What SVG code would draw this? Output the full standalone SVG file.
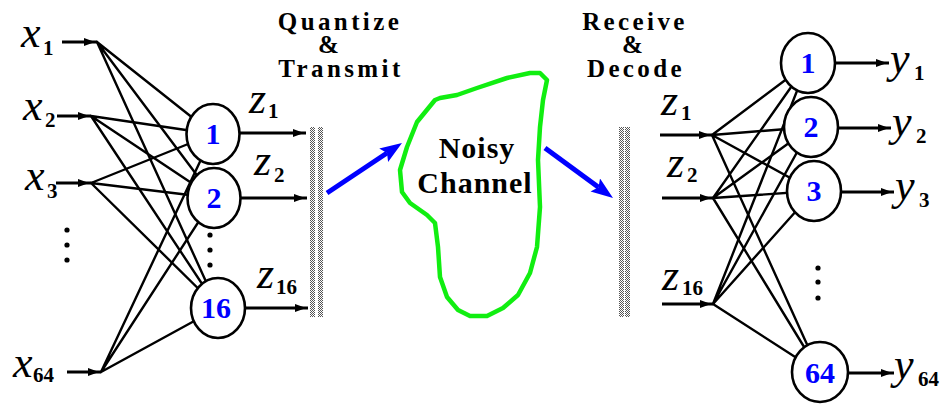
<svg xmlns="http://www.w3.org/2000/svg" width="944" height="404" viewBox="0 0 944 404">
  <defs>
    <style type="text/css">
      text { font-family: 'Liberation Serif', 'Times New Roman', serif; }
      .wire { stroke: #000; stroke-width: 2.4; fill: none; stroke-linecap: round; }
      .io { stroke: #000; stroke-width: 2.8; fill: none; marker-end: url(#head); }
      .send { stroke: #0000ff; stroke-width: 5; fill: none; marker-end: url(#bighead); }
      .unit { fill: #fff; stroke: #000; stroke-width: 2.6; }
      .num { font-weight: bold; font-size: 30px; fill: #0000ff; text-anchor: middle; }
      .var { font-style: italic; font-size: 44px; fill: #000; }
      .sub { font-weight: bold; font-size: 21px; fill: #000; }
      .head { font-weight: bold; font-size: 25px; fill: #000; text-anchor: middle; letter-spacing: 3.4px; }
      .chan { font-weight: bold; font-size: 30px; fill: #000; text-anchor: middle; letter-spacing: 1px; }
      .dot { fill: #000; }
      .blob { fill: #fff; stroke: #11ee11; stroke-width: 4.5; stroke-linejoin: round; }
    </style>
    <marker id="head" markerUnits="userSpaceOnUse" markerWidth="14" markerHeight="10" refX="13" refY="4" orient="auto">
      <path d="M0,0 L11,4 L0,8 z" fill="#000"/>
    </marker>
    <marker id="bighead" markerUnits="userSpaceOnUse" markerWidth="24" markerHeight="18" refX="4" refY="8" orient="auto">
      <path d="M0,0 L22,8 L0,16 L4,8 z" fill="#0000ff"/>
    </marker>
    <pattern id="grain" width="2" height="2" patternUnits="userSpaceOnUse">
      <rect width="2" height="2" fill="#fff"/>
      <rect width="1" height="1" fill="#555"/>
      <rect x="1" y="1" width="1" height="1" fill="#555"/>
    </pattern>
  </defs>

  <rect width="944" height="404" fill="#fff"/>

  <!-- captions above the channel -->
  <g id="caption-tx">
    <text class="head" x="340" y="30">Quantize</text>
    <text class="head" x="330" y="53">&amp;</text>
    <text class="head" x="341" y="77">Transmit</text>
  </g>
  <g id="caption-rx">
    <text class="head" x="635" y="30">Receive</text>
    <text class="head" x="634" y="53">&amp;</text>
    <text class="head" x="636" y="77">Decode</text>
  </g>

  <!-- connectors -->
  <g id="connectors">
    <!-- encoder: every input feeds every code unit -->
    <path class="wire" d="M97,42 L213,134 M97,42 L214,198 M97,42 L218,308"/>
    <path class="wire" d="M91,116 L213,134 M91,116 L214,198 M91,116 L218,308"/>
    <path class="wire" d="M91,183 L213,134 M91,183 L214,198 M91,183 L218,308"/>
    <path class="wire" d="M101,372 L213,134 M101,372 L214,198 M101,372 L218,308"/>
    <!-- decoder: every received code feeds every output unit -->
    <path class="wire" d="M712,135 L808,63 M712,135 L811,127 M712,135 L814,191 M712,135 L820,373"/>
    <path class="wire" d="M713,198 L808,63 M713,198 L811,127 M713,198 L814,191 M713,198 L820,373"/>
    <path class="wire" d="M713,304 L808,63 M713,304 L811,127 M713,304 L814,191 M713,304 L820,373"/>

    <!-- input arrows -->
    <path class="io" d="M62,42 L97,42"/>
    <path class="io" d="M57,116 L91,116"/>
    <path class="io" d="M56,183 L91,183"/>
    <path class="io" d="M67,372 L101,372"/>
    <!-- code outputs -->
    <path class="io" d="M240,133 L306,133"/>
    <path class="io" d="M241,198 L307,198"/>
    <path class="io" d="M245,308 L308,308"/>
    <!-- received code inputs -->
    <path class="io" d="M660,135 L712,135"/>
    <path class="io" d="M662,198 L713,198"/>
    <path class="io" d="M662,304 L713,304"/>
    <!-- reconstructed outputs -->
    <path class="io" d="M835,63 L889,63"/>
    <path class="io" d="M838,128 L891,128"/>
    <path class="io" d="M842,192 L894,192"/>
    <path class="io" d="M848,373 L894,373"/>

    <!-- into and out of the channel -->
    <path class="send" d="M327,193 L387,153"/>
    <path class="send" d="M545,148 L598.5,187.3"/>
  </g>

  <!-- barriers on each side of the channel -->
  <g id="tx-barrier">
    <rect x="310" y="127" width="5" height="190" fill="url(#grain)"/>
    <rect x="318" y="127" width="5" height="190" fill="url(#grain)"/>
  </g>
  <g id="rx-barrier">
    <rect x="619" y="127" width="5" height="190" fill="url(#grain)"/>
    <rect x="625" y="127" width="5" height="190" fill="url(#grain)"/>
  </g>

  <!-- the channel -->
  <g id="channel">
    <polygon class="blob" points="440,98 457,95 477,88 507,78 530,73 540,73 547,80 543,100 540,127 538,160 540,207 537,247 530,273 518,295 503,308 487,316 470,316 458,310 447,297 440,277 438,247 435,223 427,215 410,203 402,192 400,170 407,147 417,122 435,100"/>
    <text class="chan" x="477" y="158">Noisy</text>
    <text class="chan" x="475" y="193">Channel</text>
  </g>

  <!-- input labels -->
  <g id="in-x1"><text class="var" x="21" y="47">x</text><text class="sub" x="43" y="55">1</text></g>
  <g id="in-x2"><text class="var" x="23" y="120">x</text><text class="sub" x="45" y="127">2</text></g>
  <g id="in-x3"><text class="var" x="25" y="190">x</text><text class="sub" x="47" y="198">3</text></g>
  <g id="in-dots"><circle class="dot" cx="67" cy="230" r="2.6"/><circle class="dot" cx="67" cy="245" r="2.6"/><circle class="dot" cx="67" cy="260" r="2.6"/></g>
  <g id="in-x64"><text class="var" x="13" y="377">x</text><text class="sub" x="33" y="382">64</text></g>

  <!-- encoder units -->
  <g id="enc-1"><ellipse class="unit" cx="213" cy="134" rx="26.5" ry="30"/><text class="num" x="213" y="144">1</text></g>
  <g id="enc-2"><ellipse class="unit" cx="214" cy="198" rx="26.5" ry="30"/><text class="num" x="214" y="208">2</text></g>
  <g id="enc-dots"><circle class="dot" cx="210" cy="235" r="2.6"/><circle class="dot" cx="210" cy="250" r="2.6"/><circle class="dot" cx="210" cy="265" r="2.6"/></g>
  <g id="enc-16"><ellipse class="unit" cx="218" cy="308" rx="27" ry="30"/><text class="num" x="216" y="318">16</text></g>

  <!-- code labels, sender side -->
  <g id="tx-z1"><text class="var" x="249" y="113">z</text><text class="sub" x="268" y="118">1</text></g>
  <g id="tx-z2"><text class="var" x="254" y="175">z</text><text class="sub" x="274" y="182">2</text></g>
  <g id="tx-z16"><text class="var" x="257" y="288">z</text><text class="sub" x="276" y="294">16</text></g>

  <!-- code labels, receiver side -->
  <g id="rx-z1"><text class="var" x="661" y="115">z</text><text class="sub" x="681" y="120">1</text></g>
  <g id="rx-z2"><text class="var" x="667" y="177">z</text><text class="sub" x="687" y="182">2</text></g>
  <g id="rx-z16"><text class="var" x="662" y="290">z</text><text class="sub" x="682" y="295">16</text></g>

  <!-- decoder units -->
  <g id="dec-1"><ellipse class="unit" cx="808" cy="63" rx="27" ry="30"/><text class="num" x="808" y="73">1</text></g>
  <g id="dec-2"><ellipse class="unit" cx="811" cy="127" rx="27" ry="30"/><text class="num" x="811" y="137">2</text></g>
  <g id="dec-3"><ellipse class="unit" cx="814" cy="191" rx="27" ry="30"/><text class="num" x="814" y="201">3</text></g>
  <g id="dec-dots"><circle class="dot" cx="818" cy="268" r="2.6"/><circle class="dot" cx="818" cy="282" r="2.6"/><circle class="dot" cx="818" cy="298" r="2.6"/></g>
  <g id="dec-64"><ellipse class="unit" cx="820" cy="372" rx="28" ry="30"/><text class="num" x="820" y="383">64</text></g>

  <!-- output labels -->
  <g id="out-y1"><text class="var" x="890" y="73">y</text><text class="sub" x="914" y="80">1</text></g>
  <g id="out-y2"><text class="var" x="892" y="136">y</text><text class="sub" x="916" y="143">2</text></g>
  <g id="out-y3"><text class="var" x="895" y="200">y</text><text class="sub" x="919" y="207">3</text></g>
  <g id="out-y64"><text class="var" x="894" y="379">y</text><text class="sub" x="918" y="386">64</text></g>
</svg>
